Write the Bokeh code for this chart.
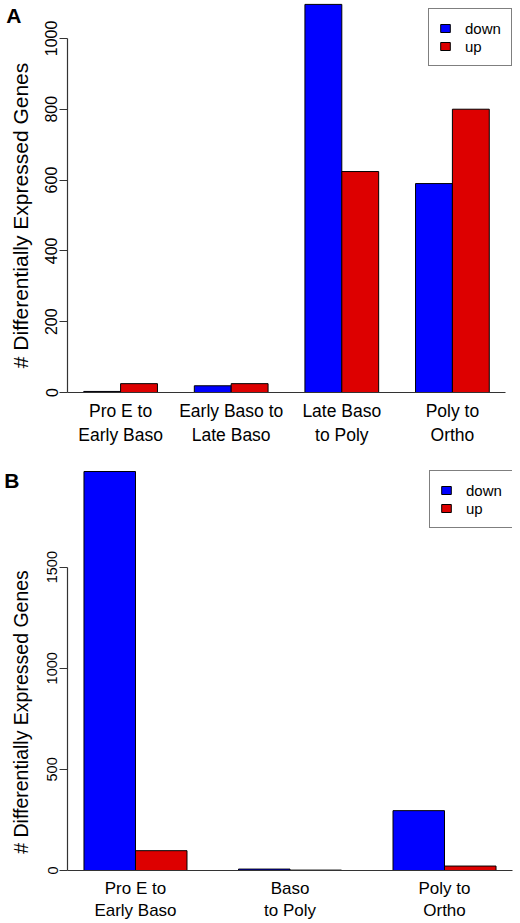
from bokeh.plotting import figure
from bokeh.layouts import column
from bokeh.models import FixedTicker, Legend, LegendItem, LinearAxis, ColumnDataSource
from bokeh.embed import file_html
from bokeh.resources import INLINE

# ---------------- data ----------------
cats_a = ["Pro E to\nEarly Baso", "Early Baso to\nLate Baso", "Late Baso\nto Poly", "Poly to\nOrtho"]
down_a = [3, 19, 1096, 590]
up_a = [25, 25, 624, 800]
yticks_a = [0, 200, 400, 600, 800, 1000]

cats_b = ["Pro E to\nEarly Baso", "Baso\nto Poly", "Poly to\nOrtho"]
down_b = [1973, 7, 296]
up_b = [98, 2, 22]
yticks_b = [0, 500, 1000, 1500]

series_names = ["down", "up"]
y_title = "# Differentially Expressed Genes"
BLUE = "#0000FF"
RED = "#DD0000"
FONT = "Liberation Sans"
LEFT = 67


def bare_axis(tick, text, orientation, size, style, standoff):
    ax = LinearAxis(ticker=FixedTicker(ticks=[tick]),
                    major_label_overrides={tick: text})
    ax.axis_line_color = None
    ax.major_tick_out = 0
    ax.major_tick_in = 0
    ax.minor_tick_out = 0
    ax.minor_tick_in = 0
    ax.major_label_standoff = standoff
    ax.major_label_orientation = orientation
    ax.major_label_text_font = FONT
    ax.major_label_text_font_size = size
    ax.major_label_text_font_style = style
    ax.major_label_text_color = "black"
    return ax


def make_panel(letter, cats, down, up, yticks, width, height, frame_h, xr, yr, xbounds,
               border_right, legend_loc, title_y, letter_y, tick_fs, title_fs, cat_fs,
               title_standoff, letter_standoff):
    n = len(cats)
    left_down = [1 + 3 * i for i in range(n)]
    centers = [l + 1 for l in left_down]
    src = ColumnDataSource(dict(
        xd=[l + 0.5 for l in left_down],
        xu=[l + 1.5 for l in left_down],
        down=down, up=up,
    ))
    p = figure(width=width, height=height, x_range=xr, y_range=yr,
               output_backend="svg", toolbar_location=None,
               min_border_left=LEFT, min_border_right=border_right,
               min_border_top=0, min_border_bottom=height - frame_h)
    p.outline_line_color = None
    p.grid.visible = False
    rd = p.vbar(x="xd", top="down", bottom=0, width=1, source=src,
                fill_color=BLUE, line_color="black", line_width=1)
    ru = p.vbar(x="xu", top="up", bottom=0, width=1, source=src,
                fill_color=RED, line_color="black", line_width=1)

    # x axis: category labels under each pair of bars
    xa = p.xaxis[0]
    xa.ticker = FixedTicker(ticks=centers)
    xa.major_label_overrides = {c: lab for c, lab in zip(centers, cats)}
    xa.bounds = xbounds
    xa.major_tick_out = 0
    xa.major_tick_in = 0
    xa.minor_tick_out = 0
    xa.minor_tick_in = 0
    xa.axis_line_color = "#333333"
    xa.axis_line_width = 1.2
    xa.major_label_text_font = FONT
    xa.major_label_text_font_size = cat_fs
    xa.major_label_text_color = "black"
    xa.major_label_standoff = 8

    # y axis
    ya = p.yaxis[0]
    ya.ticker = FixedTicker(ticks=yticks)
    ya.bounds = (yticks[0], yticks[-1])
    ya.axis_line_color = "#333333"
    ya.axis_line_width = 1.2
    ya.major_tick_line_color = "#333333"
    ya.major_tick_out = 8
    ya.major_tick_in = 0
    ya.minor_tick_out = 0
    ya.minor_tick_in = 0
    ya.major_label_orientation = "vertical"
    ya.major_label_text_font = FONT
    ya.major_label_text_font_size = tick_fs
    ya.major_label_text_color = "black"
    ya.major_label_standoff = 2

    # y title and panel letter as outer left axes (kept outside the plot frame)
    p.add_layout(bare_axis(title_y, y_title, "vertical", title_fs, "normal", title_standoff), "left")
    p.add_layout(bare_axis(letter_y, letter, "horizontal", "21px", "bold", letter_standoff), "left")

    legend = Legend(items=[LegendItem(label=series_names[0], renderers=[rd]),
                           LegendItem(label=series_names[1], renderers=[ru])],
                    location=legend_loc)
    legend.label_text_font = FONT
    legend.label_text_font_size = "15px"
    legend.label_text_color = "black"
    legend.glyph_width = 12
    legend.glyph_height = 10
    legend.label_height = 18
    legend.label_standoff = 14
    legend.padding = 10
    legend.spacing = 0
    legend.margin = 0
    legend.border_line_color = "black"
    legend.border_line_width = 1
    legend.background_fill_alpha = 1
    p.add_layout(legend)
    return p


pa = make_panel("A", cats_a, down_a, up_a, yticks_a, width=520, height=452, frame_h=392,
                xr=(0.56, 12.63), yr=(0, 1107), xbounds=(0.56, 12.44), border_right=8,
                legend_loc=(361, 326), title_y=500, letter_y=1066,
                tick_fs="16px", title_fs="21px", cat_fs="17.5px",
                title_standoff=10, letter_standoff=-15)
pb = make_panel("B", cats_b, down_b, up_b, yticks_b, width=520, height=471, frame_h=419,
                xr=(0.68, 9.32), yr=(0, 2067), xbounds=(0.68, 9.32), border_right=2,
                legend_loc=(362, 342), title_y=784, letter_y=1929,
                tick_fs="14.5px", title_fs="19.5px", cat_fs="17px",
                title_standoff=12, letter_standoff=-12)

layout = column(pa, pb, spacing=0)
open("out.html", "w").write(file_html(layout, INLINE))
